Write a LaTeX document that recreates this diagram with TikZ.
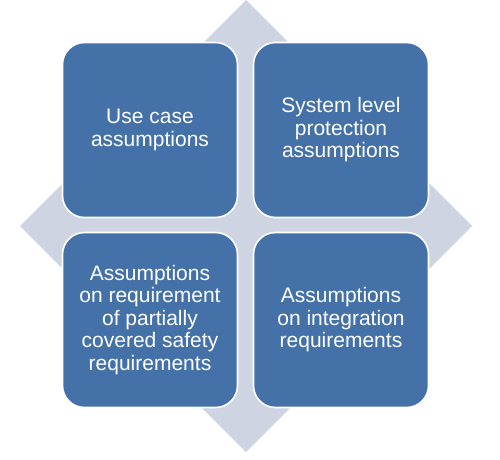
\documentclass[tikz,border=0pt]{standalone}
\usepackage{fontspec}
\setmainfont{Liberation Sans}
\definecolor{boxblue}{RGB}{68,113,168}
\definecolor{diamondgray}{RGB}{206,212,225}
\begin{document}
\begin{tikzpicture}[x=1pt,y=1pt,
  quad/.style={draw=white, line width=1.6pt, fill=boxblue, rounded corners=22pt,
    minimum width=175pt, minimum height=175pt, inner sep=0pt, align=center,
    text=white, font=\fontsize{21}{22.5}\selectfont}]
\useasboundingbox (0,0) rectangle (500,459);
\fill[diamondgray] (246,459) -- (472,233) -- (246,7) -- (20,233) -- cycle;
\node[quad] (tl) at (150,329) {Use case\\assumptions};
\node[quad] (tr) at (341,329) {System level\\protection\\assumptions};
\node[quad] (bl) at (150,139) {Assumptions\\on requirement\\of partially\\covered safety\\requirements};
\node[quad] (br) at (341,139) {Assumptions\\on integration\\requirements};
\end{tikzpicture}
\end{document}
